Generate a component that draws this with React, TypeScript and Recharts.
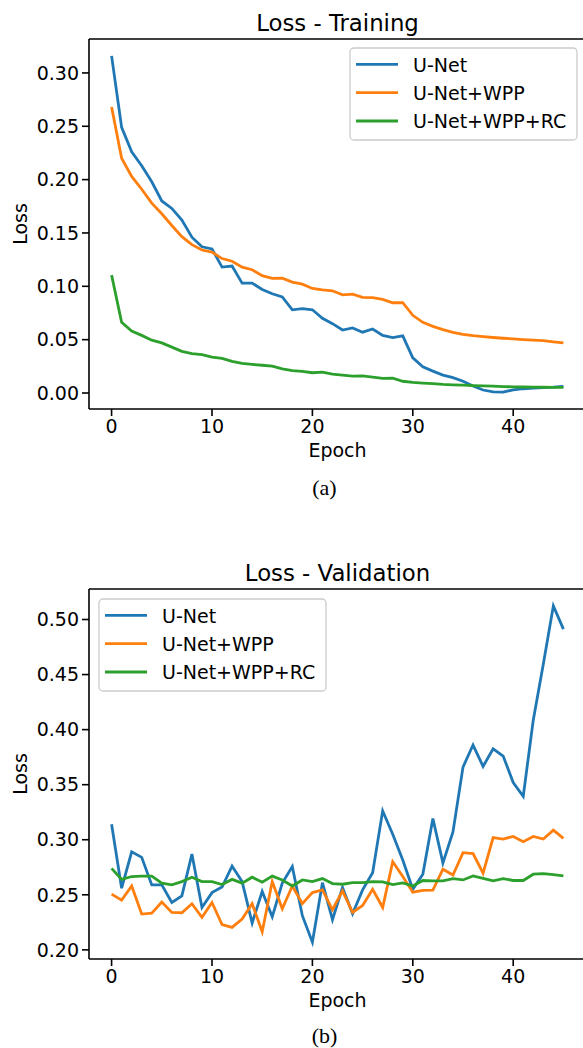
import { LineChart, Line, XAxis, YAxis, ReferenceLine } from "recharts";

const epochs = Array.from({ length: 46 }, (_, i) => i);
const xTicks = [0, 10, 20, 30, 40];

const seriesKeys = ["unet", "wpp", "rc"];
const seriesNames = ["U-Net", "U-Net+WPP", "U-Net+WPP+RC"];
const seriesColors = ["#1f77b4", "#ff7f0e", "#2ca02c"];

// training loss
const trainUNet = [
  0.316, 0.249, 0.226, 0.213, 0.198, 0.18, 0.173, 0.162, 0.146, 0.137, 0.135, 0.118, 0.119, 0.103, 0.103, 0.097,
  0.093, 0.09, 0.078, 0.079, 0.078, 0.07, 0.065, 0.059, 0.061, 0.057, 0.06, 0.054, 0.052, 0.0535, 0.033, 0.0246,
  0.0205, 0.0168, 0.0144, 0.011, 0.0065, 0.0028, 0.001, 0.0008, 0.003, 0.004, 0.0045, 0.005, 0.0055, 0.0063,
];
const trainWPP = [
  0.268, 0.22, 0.203, 0.191, 0.178, 0.168, 0.157, 0.1465, 0.139, 0.134, 0.132, 0.126, 0.1235, 0.118, 0.1155, 0.11,
  0.1075, 0.1076, 0.104, 0.102, 0.098, 0.0967, 0.0958, 0.092, 0.0927, 0.0896, 0.0893, 0.0877, 0.0846, 0.0846, 0.0728,
  0.0662, 0.0625, 0.0594, 0.0569, 0.055, 0.0538, 0.0529, 0.052, 0.0513, 0.0507, 0.05, 0.0495, 0.049, 0.048, 0.047,
];
const trainRC = [
  0.1105, 0.0662, 0.058, 0.054, 0.0495, 0.047, 0.043, 0.039, 0.037, 0.036, 0.0336, 0.0324, 0.0296, 0.0277, 0.0268,
  0.026, 0.0252, 0.0227, 0.0209, 0.0203, 0.019, 0.0196, 0.0177, 0.0168, 0.0159, 0.016, 0.0149, 0.0137, 0.014, 0.011,
  0.01, 0.0093, 0.0087, 0.008, 0.0077, 0.0074, 0.007, 0.0067, 0.0064, 0.006, 0.0058, 0.0056, 0.0055, 0.0054, 0.0052,
  0.0052,
];

// validation loss
const valUNet = [
  0.314, 0.256, 0.289, 0.284, 0.259, 0.259, 0.243, 0.249, 0.287, 0.2385, 0.252, 0.257, 0.276, 0.262, 0.2244, 0.253,
  0.23, 0.2606, 0.2756, 0.231, 0.207, 0.261, 0.2274, 0.2566, 0.2328, 0.2545, 0.27, 0.3262, 0.305, 0.2816, 0.255,
  0.2687, 0.3193, 0.279, 0.307, 0.366, 0.386, 0.3666, 0.3826, 0.376, 0.352, 0.3395, 0.4088, 0.4597, 0.5124, 0.4913,
];
const valWPP = [
  0.2506, 0.2452, 0.258, 0.2325, 0.2334, 0.2434, 0.234, 0.2337, 0.2419, 0.2295, 0.243, 0.2229, 0.2204, 0.228, 0.2419,
  0.2165, 0.262, 0.2373, 0.258, 0.242, 0.252, 0.2545, 0.2364, 0.2536, 0.234, 0.2403, 0.255, 0.2385, 0.28, 0.2666,
  0.2524, 0.254, 0.2542, 0.2732, 0.268, 0.2883, 0.2874, 0.2696, 0.302, 0.3006, 0.303, 0.2982, 0.303, 0.3006, 0.3087,
  0.3012,
];
const valRC = [
  0.274, 0.264, 0.2666, 0.267, 0.267, 0.2606, 0.259, 0.262, 0.266, 0.262, 0.262, 0.2593, 0.264, 0.2606, 0.266, 0.2615,
  0.267, 0.2635, 0.258, 0.2635, 0.262, 0.2647, 0.2602, 0.2596, 0.2611, 0.2611, 0.262, 0.2617, 0.2593, 0.2608, 0.258,
  0.263, 0.2626, 0.2626, 0.2647, 0.2635, 0.2672, 0.265, 0.2626, 0.2647, 0.263, 0.263, 0.2687, 0.2692, 0.2684, 0.2672,
];

const trainTicks = [0, 0.05, 0.1, 0.15, 0.2, 0.25, 0.3];
const valTicks = [0.2, 0.25, 0.3, 0.35, 0.4, 0.45, 0.5];

const trainRows = epochs.map((e, i) => ({ epoch: e, unet: trainUNet[i], wpp: trainWPP[i], rc: trainRC[i] }));
const valRows = epochs.map((e, i) => ({ epoch: e, unet: valUNet[i], wpp: valWPP[i], rc: valRC[i] }));

const FONT = "DejaVu Sans";
const tickStyle = { fill: "#000", fontSize: 19, fontFamily: FONT };
const axisStroke = { stroke: "#000", strokeWidth: 1.6 };
const X_DOMAIN: [number, number] = [-2.25, 47.25];

function LossPanel({ data, yDomain, yTicks }: any) {
  return (
    <LineChart width={600} height={440} data={data} margin={{ top: 39, right: 14, bottom: 1, left: 0 }}>
      <XAxis
        dataKey="epoch"
        type="number"
        domain={X_DOMAIN}
        ticks={xTicks}
        interval={0}
        allowDataOverflow
        height={30}
        tickSize={7}
        tickMargin={4}
        tick={tickStyle}
        axisLine={axisStroke}
        tickLine={axisStroke}
      />
      <YAxis
        type="number"
        domain={yDomain}
        ticks={yTicks}
        interval={0}
        allowDataOverflow
        width={89}
        tickSize={7}
        tickMargin={3}
        tick={tickStyle}
        axisLine={axisStroke}
        tickLine={axisStroke}
        tickFormatter={(v: number) => v.toFixed(2)}
      />
      <ReferenceLine y={yDomain[1]} stroke="#000" strokeWidth={1.6} />
      <ReferenceLine x={X_DOMAIN[1]} stroke="#000" strokeWidth={1.6} />
      {seriesKeys.map((k, i) => (
        <Line
          key={k}
          type="linear"
          dataKey={k}
          name={seriesNames[i]}
          stroke={seriesColors[i]}
          strokeWidth={2.8}
          dot={false}
          activeDot={false}
          isAnimationActive={false}
        />
      ))}
    </LineChart>
  );
}

function LegendBox({ x, y }: { x: number; y: number }) {
  const rows = [16.3, 44.7, 73];
  return (
    <g>
      <rect x={x} y={y} width={227} height={92} rx={4} fill="#fff" fillOpacity={0.8} stroke="#cccccc" strokeWidth={1.3} />
      {seriesNames.map((n, i) => (
        <g key={n}>
          <line x1={x + 6} x2={x + 48} y1={y + rows[i]} y2={y + rows[i]} stroke={seriesColors[i]} strokeWidth={2.8} />
          <text x={x + 63} y={y + rows[i] + 7.2} fontSize={19} fontFamily={FONT} fill="#000">
            {n}
          </text>
        </g>
      ))}
    </g>
  );
}

export default function App() {
  return (
    <div style={{ position: "absolute", left: 0, top: 0, width: 583, height: 1048, overflow: "hidden", background: "#fff" }}>
      <div style={{ position: "absolute", left: 0, top: 0 }}>
        <LossPanel data={trainRows} yDomain={[-0.015, 0.3318]} yTicks={trainTicks} />
      </div>
      <div style={{ position: "absolute", left: 0, top: 550 }}>
        <LossPanel data={valRows} yDomain={[0.1917, 0.5277]} yTicks={valTicks} />
      </div>
      <svg width={583} height={1048} style={{ position: "absolute", left: 0, top: 0, pointerEvents: "none" }}>
        <g fontFamily={FONT} fill="#000">
          <text x={337.5} y={30.5} fontSize={22.8} textAnchor="middle">Loss - Training</text>
          <text transform="translate(27,224) rotate(-90)" fontSize={19} textAnchor="middle">Loss</text>
          <text x={337.5} y={457.3} fontSize={19} textAnchor="middle">Epoch</text>
          <text x={337.5} y={580.5} fontSize={22.8} textAnchor="middle">Loss - Validation</text>
          <text transform="translate(27,774) rotate(-90)" fontSize={19} textAnchor="middle">Loss</text>
          <text x={337.5} y={1007.3} fontSize={19} textAnchor="middle">Epoch</text>
        </g>
        <g fontFamily="Liberation Serif" fill="#000">
          <text x={324.5} y={495} fontSize={22} textAnchor="middle">(a)</text>
          <text x={324.5} y={1042.5} fontSize={22} textAnchor="middle">(b)</text>
        </g>
        <LegendBox x={350} y={48} />
        <LegendBox x={99} y={599} />
      </svg>
    </div>
  );
}
